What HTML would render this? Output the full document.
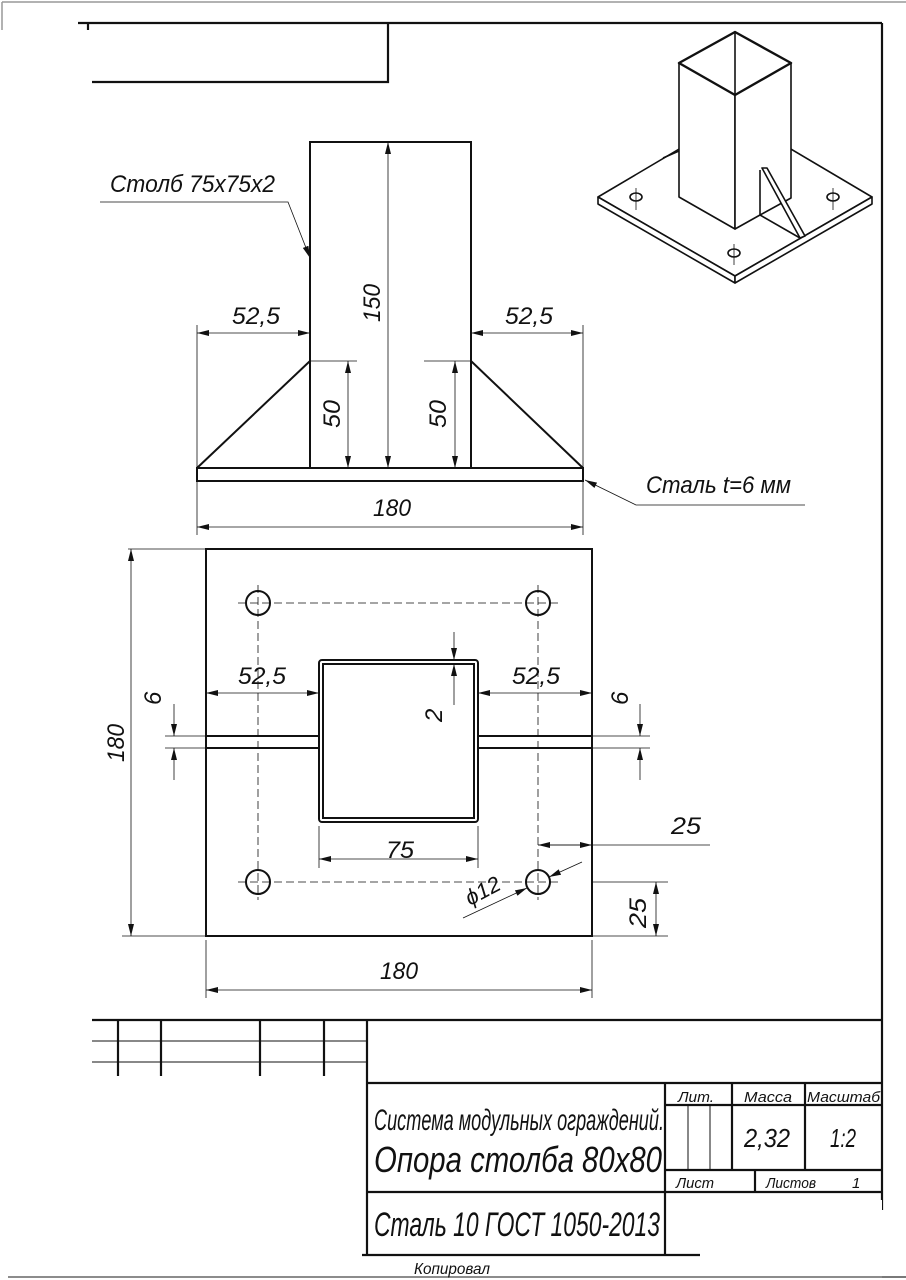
<!DOCTYPE html>
<html><head><meta charset="utf-8"><style>
html,body{margin:0;padding:0;background:#fff;}
svg{display:block}
text{font-family:"Liberation Sans","DejaVu Sans",sans-serif;font-style:italic;fill:#111}
</style></head><body>
<svg width="906" height="1280" viewBox="0 0 906 1280" xmlns="http://www.w3.org/2000/svg">
<defs>
<marker id="a" viewBox="0 0 12 6" refX="12" refY="3" markerWidth="12" markerHeight="6" orient="auto-start-reverse" markerUnits="userSpaceOnUse"><path d="M0,0 L12,3 L0,6 z" fill="#111"/></marker>
</defs>
<!-- outer sheet lines -->
<line x1="2" y1="2" x2="906" y2="2" stroke="#999" stroke-width="1.5"/>
<line x1="2" y1="2" x2="2" y2="30" stroke="#999" stroke-width="1.5"/>
<line x1="8" y1="1277" x2="906" y2="1277" stroke="#666" stroke-width="1.5"/>
<!-- frame -->
<g stroke="#111" stroke-width="2.2" fill="none">
<line x1="78" y1="23" x2="882" y2="23"/>
<line x1="882" y1="23" x2="882" y2="1210"/>
<line x1="88" y1="23" x2="88" y2="30"/>
<polyline points="388,23 388,82 92,82"/>
</g>
<!-- iso view -->
<g stroke="#111" stroke-width="1.6" fill="#fff" stroke-linejoin="round">
<polygon points="598,197 735,116 872,197 735,276"/>
<polygon points="598,197 735,276 735,283 598,204"/>
<polygon points="735,276 872,197 872,204 735,283"/>
<line x1="663" y1="158" x2="679" y2="151"/>
<polygon points="679,63 735,95 735,229 679,197"/>
<polygon points="735,95 791,63 791,198 760,215 735,229"/>
<polygon points="762,168 767,168 805,236 800,238"/>
<line x1="760" y1="215" x2="800" y2="238"/>
<line x1="760" y1="170" x2="760" y2="215"/>
<polygon points="679,63 735,32 791,63 735,95" stroke-width="2.4"/>
<line x1="735" y1="32" x2="735" y2="95"/>
<ellipse cx="636" cy="197" rx="6" ry="4"/>
<ellipse cx="833" cy="197" rx="6" ry="4"/>
<ellipse cx="734" cy="253" rx="6" ry="4"/>
</g>
<g stroke="#111" stroke-width="0.8">
<line x1="636" y1="188" x2="636" y2="210"/><line x1="833" y1="188" x2="833" y2="210"/><line x1="734" y1="244" x2="734" y2="265"/>
</g>
<!-- front view -->
<g stroke="#111" stroke-width="2" fill="none">
<rect x="310" y="142" width="161" height="326"/>
<rect x="197" y="468" width="386" height="13"/>
<line x1="197" y1="468" x2="310" y2="361"/>
<line x1="471" y1="361" x2="583" y2="468"/>
</g>
<g stroke="#111" stroke-width="0.8" fill="none">
<line x1="388" y1="142" x2="388" y2="468" marker-start="url(#a)" marker-end="url(#a)"/>
<line x1="310" y1="361" x2="357" y2="361"/><line x1="348" y1="361" x2="348" y2="468" marker-start="url(#a)" marker-end="url(#a)"/>
<line x1="424" y1="361" x2="471" y2="361"/><line x1="455" y1="361" x2="455" y2="468" marker-start="url(#a)" marker-end="url(#a)"/>
<line x1="197" y1="325" x2="197" y2="468"/><line x1="583" y1="325" x2="583" y2="468"/>
<line x1="197" y1="333" x2="310" y2="333" marker-start="url(#a)" marker-end="url(#a)"/>
<line x1="471" y1="333" x2="583" y2="333" marker-start="url(#a)" marker-end="url(#a)"/>
<line x1="197" y1="481" x2="197" y2="535"/><line x1="583" y1="481" x2="583" y2="535"/>
<line x1="197" y1="527" x2="583" y2="527" marker-start="url(#a)" marker-end="url(#a)"/>
<polyline points="100,202 288,202 310,258" marker-end="url(#a)"/>
<polyline points="805,505 636,505 585,480" marker-end="url(#a)"/>
</g>
<text x="110" y="192" font-size="24" textLength="165" lengthAdjust="spacingAndGlyphs">Столб 75х75х2</text>
<text x="646" y="493" font-size="24" textLength="145" lengthAdjust="spacingAndGlyphs">Сталь t=6 мм</text>
<text x="232" y="324" font-size="24" textLength="48" lengthAdjust="spacingAndGlyphs">52,5</text>
<text x="505" y="324" font-size="24" textLength="48" lengthAdjust="spacingAndGlyphs">52,5</text>
<text x="373" y="516" font-size="24" textLength="38" lengthAdjust="spacingAndGlyphs">180</text>
<text transform="translate(380,322) rotate(-90)" font-size="24" textLength="38" lengthAdjust="spacingAndGlyphs">150</text>
<text transform="translate(340,428) rotate(-90)" font-size="24" textLength="28" lengthAdjust="spacingAndGlyphs">50</text>
<text transform="translate(446,428) rotate(-90)" font-size="24" textLength="28" lengthAdjust="spacingAndGlyphs">50</text>
<!-- plan view -->
<g stroke="#111" stroke-width="2" fill="none">
<rect x="206" y="549" width="386" height="387"/>
<line x1="206" y1="736" x2="319" y2="736"/><line x1="206" y1="748" x2="319" y2="748"/>
<line x1="478" y1="736" x2="592" y2="736"/><line x1="478" y1="748" x2="592" y2="748"/>
<rect x="319" y="660" width="159" height="162" rx="3"/>
<rect x="323" y="664" width="151" height="154"/>
<circle cx="258" cy="603" r="12"/><circle cx="538" cy="603" r="12"/>
<circle cx="258" cy="882" r="12"/><circle cx="538" cy="882" r="12"/>
</g>
<g stroke="#111" stroke-width="0.8" fill="none" stroke-dasharray="8,4">
<line x1="238" y1="603" x2="560" y2="603"/><line x1="238" y1="882" x2="560" y2="882"/>
<line x1="258" y1="585" x2="258" y2="900"/><line x1="538" y1="585" x2="538" y2="900"/>
</g>
<g stroke="#111" stroke-width="0.8" fill="none">
<line x1="128" y1="549" x2="206" y2="549"/><line x1="122" y1="936" x2="206" y2="936"/>
<line x1="131" y1="549" x2="131" y2="936" marker-start="url(#a)" marker-end="url(#a)"/>
<line x1="206" y1="940" x2="206" y2="998"/><line x1="592" y1="940" x2="592" y2="998"/>
<line x1="206" y1="990" x2="592" y2="990" marker-start="url(#a)" marker-end="url(#a)"/>
<line x1="206" y1="693" x2="319" y2="693" marker-start="url(#a)" marker-end="url(#a)"/>
<line x1="478" y1="693" x2="592" y2="693" marker-start="url(#a)" marker-end="url(#a)"/>
<line x1="165" y1="736" x2="206" y2="736"/><line x1="165" y1="748" x2="206" y2="748"/>
<line x1="174" y1="704" x2="174" y2="736" marker-end="url(#a)"/><line x1="174" y1="780" x2="174" y2="748" marker-end="url(#a)"/>
<line x1="592" y1="736" x2="650" y2="736"/><line x1="592" y1="748" x2="650" y2="748"/>
<line x1="640" y1="704" x2="640" y2="736" marker-end="url(#a)"/><line x1="640" y1="780" x2="640" y2="748" marker-end="url(#a)"/>
<line x1="454" y1="632" x2="454" y2="660" marker-end="url(#a)"/><line x1="454" y1="705" x2="454" y2="664" marker-end="url(#a)"/>
<line x1="319" y1="826" x2="319" y2="868"/><line x1="478" y1="826" x2="478" y2="868"/>
<line x1="319" y1="859" x2="478" y2="859" marker-start="url(#a)" marker-end="url(#a)"/>
<line x1="538" y1="845" x2="710" y2="845"/>
<line x1="538" y1="845" x2="592" y2="845" marker-start="url(#a)" marker-end="url(#a)"/>
<line x1="592" y1="882" x2="668" y2="882"/><line x1="592" y1="936" x2="668" y2="936"/>
<line x1="656" y1="882" x2="656" y2="936" marker-start="url(#a)" marker-end="url(#a)"/>
<line x1="463" y1="918" x2="527" y2="888" marker-end="url(#a)"/>
<line x1="582" y1="862" x2="549" y2="877" marker-end="url(#a)"/>
</g>
<text transform="translate(124,762) rotate(-90)" font-size="24" textLength="38" lengthAdjust="spacingAndGlyphs">180</text>
<text x="238" y="684" font-size="24" textLength="48" lengthAdjust="spacingAndGlyphs">52,5</text>
<text x="512" y="684" font-size="24" textLength="48" lengthAdjust="spacingAndGlyphs">52,5</text>
<text transform="translate(161,705) rotate(-90)" font-size="24">6</text>
<text transform="translate(628,705) rotate(-90)" font-size="24">6</text>
<text transform="translate(442,722) rotate(-90)" font-size="24">2</text>
<text x="386" y="858" font-size="24" textLength="28" lengthAdjust="spacingAndGlyphs">75</text>
<text x="671" y="834" font-size="24" textLength="30" lengthAdjust="spacingAndGlyphs">25</text>
<text transform="translate(646,928) rotate(-90)" font-size="24" textLength="30" lengthAdjust="spacingAndGlyphs">25</text>
<text transform="translate(470,906) rotate(-28)" font-size="22">ϕ12</text>
<text x="380" y="979" font-size="24" textLength="38" lengthAdjust="spacingAndGlyphs">180</text>
<!-- title block -->
<g stroke="#111" stroke-width="2.2" fill="none">
<line x1="92" y1="1020" x2="882" y2="1020"/>
<line x1="367" y1="1020" x2="367" y2="1255"/>
<line x1="367" y1="1083" x2="882" y2="1083"/>
<line x1="367" y1="1192" x2="882" y2="1192"/>
<line x1="362" y1="1255" x2="700" y2="1255"/>
<line x1="665" y1="1083" x2="665" y2="1255"/>
<line x1="118" y1="1020" x2="118" y2="1076"/><line x1="161" y1="1020" x2="161" y2="1076"/>
<line x1="260" y1="1020" x2="260" y2="1076"/><line x1="324" y1="1020" x2="324" y2="1076"/>
<line x1="665" y1="1105" x2="882" y2="1105"/>
<line x1="665" y1="1170" x2="882" y2="1170"/>
<line x1="732" y1="1083" x2="732" y2="1170"/>
<line x1="805" y1="1083" x2="805" y2="1170"/>
<line x1="755" y1="1170" x2="755" y2="1192"/>
</g>
<g stroke="#111" stroke-width="1" fill="none">
<line x1="92" y1="1041" x2="367" y2="1041"/><line x1="92" y1="1062" x2="367" y2="1062"/>
<line x1="688" y1="1105" x2="688" y2="1170"/><line x1="710" y1="1105" x2="710" y2="1170"/>
</g>
<rect x="700" y="1200" width="182" height="80" fill="#fff"/>
<line x1="700" y1="1277" x2="906" y2="1277" stroke="#666" stroke-width="1.5"/>
<text x="678" y="1102" font-size="15" textLength="36" lengthAdjust="spacingAndGlyphs">Лит.</text>
<text x="744" y="1102" font-size="15" textLength="48" lengthAdjust="spacingAndGlyphs">Масса</text>
<text x="807" y="1102" font-size="15" textLength="73" lengthAdjust="spacingAndGlyphs">Масштаб</text>
<text x="744" y="1147" font-size="26" textLength="46" lengthAdjust="spacingAndGlyphs">2,32</text>
<text x="830" y="1147" font-size="26" textLength="26" lengthAdjust="spacingAndGlyphs">1:2</text>
<text x="676" y="1188" font-size="15" textLength="38" lengthAdjust="spacingAndGlyphs">Лист</text>
<text x="766" y="1188" font-size="15" textLength="50" lengthAdjust="spacingAndGlyphs">Листов</text>
<text x="852" y="1188" font-size="15">1</text>
<text x="374" y="1130" font-size="30" textLength="290" lengthAdjust="spacingAndGlyphs">Система модульных ограждений.</text>
<text x="374" y="1172" font-size="36" textLength="288" lengthAdjust="spacingAndGlyphs">Опора столба 80х80</text>
<text x="374" y="1236" font-size="34" textLength="286" lengthAdjust="spacingAndGlyphs">Сталь 10 ГОСТ 1050-2013</text>
<text x="414" y="1274" font-size="16" textLength="76" lengthAdjust="spacingAndGlyphs">Копировал</text>
</svg>
</body></html>
